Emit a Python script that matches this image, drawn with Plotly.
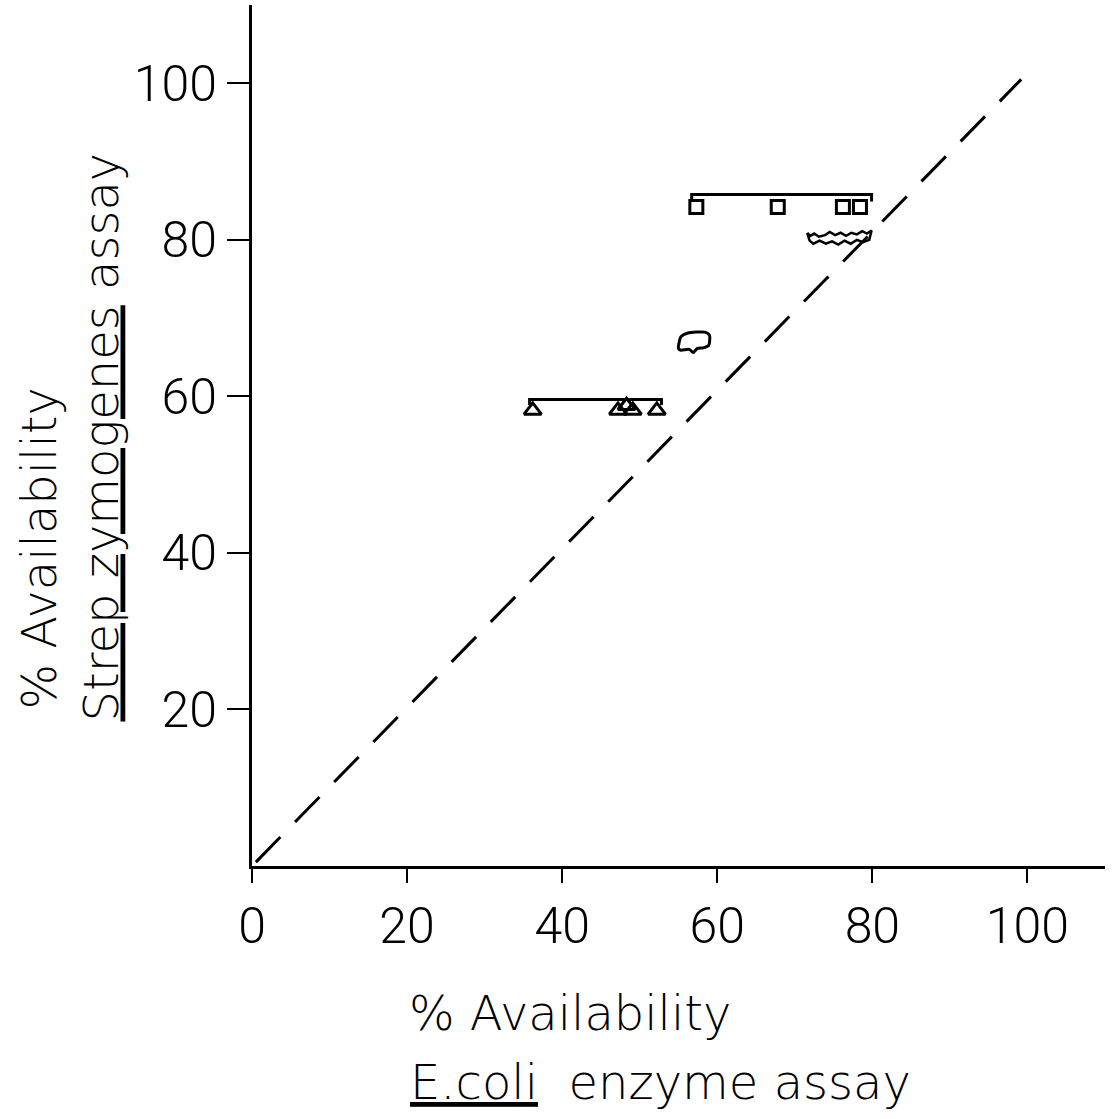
import plotly.graph_objects as go

# ---- data ----
square_x = [57.3, 67.8, 76.2, 78.4]
square_y = [84.2, 84.2, 84.2, 84.2]
square_bracket_x = [56.7, 56.7, 79.9, 79.9]
square_bracket_y = [84.9, 85.8, 85.8, 84.9]

triangle_x = [36.2, 47.2, 48.3, 49.1, 52.2]
triangle_y = [58.2, 58.2, 58.8, 58.2, 58.2]
triangle_bracket_x = [35.8, 35.8, 52.8, 52.8]
triangle_bracket_y = [58.9, 59.6, 59.6, 58.9]

blob_x = [55.0, 55.3, 56.2, 58.4, 59.0, 58.9, 58.2, 57.4, 56.9, 56.4, 55.3, 55.0]
blob_y = [66.1, 67.6, 68.1, 68.2, 67.8, 66.5, 66.2, 66.1, 65.6, 66.0, 65.9, 66.1]

wavy_x = [71.6, 72.0, 72.5, 73.1, 73.9, 74.5, 75.2, 75.9, 76.6, 77.3, 78.0, 78.7, 79.3, 79.9,
          79.6, 78.8, 78.0, 77.2, 76.4, 75.6, 74.8, 74.0, 73.2, 72.4, 71.9, 71.6]
wavy_y = [80.9, 80.5, 80.8, 80.4, 80.6, 81.0, 80.6, 80.9, 80.5, 80.9, 80.7, 81.1, 80.8, 81.2,
          80.0, 79.7, 80.0, 79.5, 79.9, 79.4, 79.8, 79.5, 79.9, 79.5, 79.9, 80.9]

identity_x = [0.5, 99.2]
identity_y = [0.5, 100.5]

x_ticks = [0, 20, 40, 60, 80, 100]
y_ticks = [20, 40, 60, 80, 100]

TICK_FONT = "Roboto"
TITLE_FONT = "DejaVu Sans"
INK = "black"

fig = go.Figure()

fig.add_trace(go.Scatter(x=identity_x, y=identity_y, mode="lines",
                         line=dict(color=INK, width=3, dash="35px,21px"),
                         hoverinfo="skip"))

fig.add_trace(go.Scatter(x=square_bracket_x, y=square_bracket_y, mode="lines",
                         line=dict(color=INK, width=3)))
fig.add_trace(go.Scatter(x=square_x, y=square_y, mode="markers",
                         marker=dict(symbol="square-open", size=13, color=INK,
                                     line=dict(width=3, color=INK))))

fig.add_trace(go.Scatter(x=triangle_bracket_x, y=triangle_bracket_y, mode="lines",
                         line=dict(color=INK, width=3)))
fig.add_trace(go.Scatter(x=triangle_x, y=triangle_y, mode="markers",
                         marker=dict(symbol="triangle-up-open", size=15, color=INK,
                                     line=dict(width=3, color=INK))))

fig.add_trace(go.Scatter(x=blob_x, y=blob_y, mode="lines",
                         line=dict(color=INK, width=3, shape="spline", smoothing=0.6)))
fig.add_trace(go.Scatter(x=wavy_x, y=wavy_y, mode="lines",
                         line=dict(color=INK, width=2.5)))

fig.update_layout(
    width=1113, height=1119,
    margin=dict(l=252, r=8, t=5, b=253),
    paper_bgcolor="white", plot_bgcolor="white",
    showlegend=False,
    font=dict(family=TICK_FONT, color=INK, size=50, weight=300),
)

fig.update_xaxes(
    range=[0, 110], tickvals=x_ticks, ticktext=[str(v) for v in x_ticks],
    showline=True, linecolor=INK, linewidth=3, showgrid=False, zeroline=False,
    ticks="outside", ticklen=14, tickwidth=2, tickcolor=INK,
    tickfont=dict(family=TICK_FONT, size=50, color=INK, weight=300),
    ticklabelstandoff=0,
)
fig.update_yaxes(
    range=[0, 110], tickvals=y_ticks, ticktext=[str(v) for v in y_ticks],
    showline=True, linecolor=INK, linewidth=3, showgrid=False, zeroline=False,
    ticks="outside", ticklen=22, tickwidth=2, tickcolor=INK,
    tickfont=dict(family=TICK_FONT, size=50, color=INK, weight=300),
    ticklabelstandoff=0,
)

title_font = dict(family=TITLE_FONT, size=48, color=INK, weight=200)
# x-axis title (two lines)
fig.add_annotation(text="% Availability", xref="paper", yref="paper",
                   x=(407 - 252) / 853, y=(866 - 1013) / 861,
                   xanchor="left", yanchor="middle", showarrow=False, font=title_font)
fig.add_annotation(text="<u>E.coli</u>  enzyme assay", xref="paper", yref="paper",
                   x=(408 - 252) / 853, y=(866 - 1082) / 861,
                   xanchor="left", yanchor="middle", showarrow=False, font=title_font)
# y-axis title (two rotated lines)
fig.add_annotation(text="% Availability", xref="paper", yref="paper",
                   x=(38 - 252) / 853, y=(866 - 712) / 861,
                   xanchor="center", yanchor="bottom", textangle=-90,
                   showarrow=False, font=title_font)
fig.add_annotation(text="<u>Strep zymogenes</u> assay", xref="paper", yref="paper",
                   x=(100 - 252) / 853, y=(866 - 724) / 861,
                   xanchor="center", yanchor="bottom", textangle=-90,
                   showarrow=False, font=title_font)

fig.write_html("out.html", config={"displayModeBar": False},
               post_script="document.body.style.margin='0';")
